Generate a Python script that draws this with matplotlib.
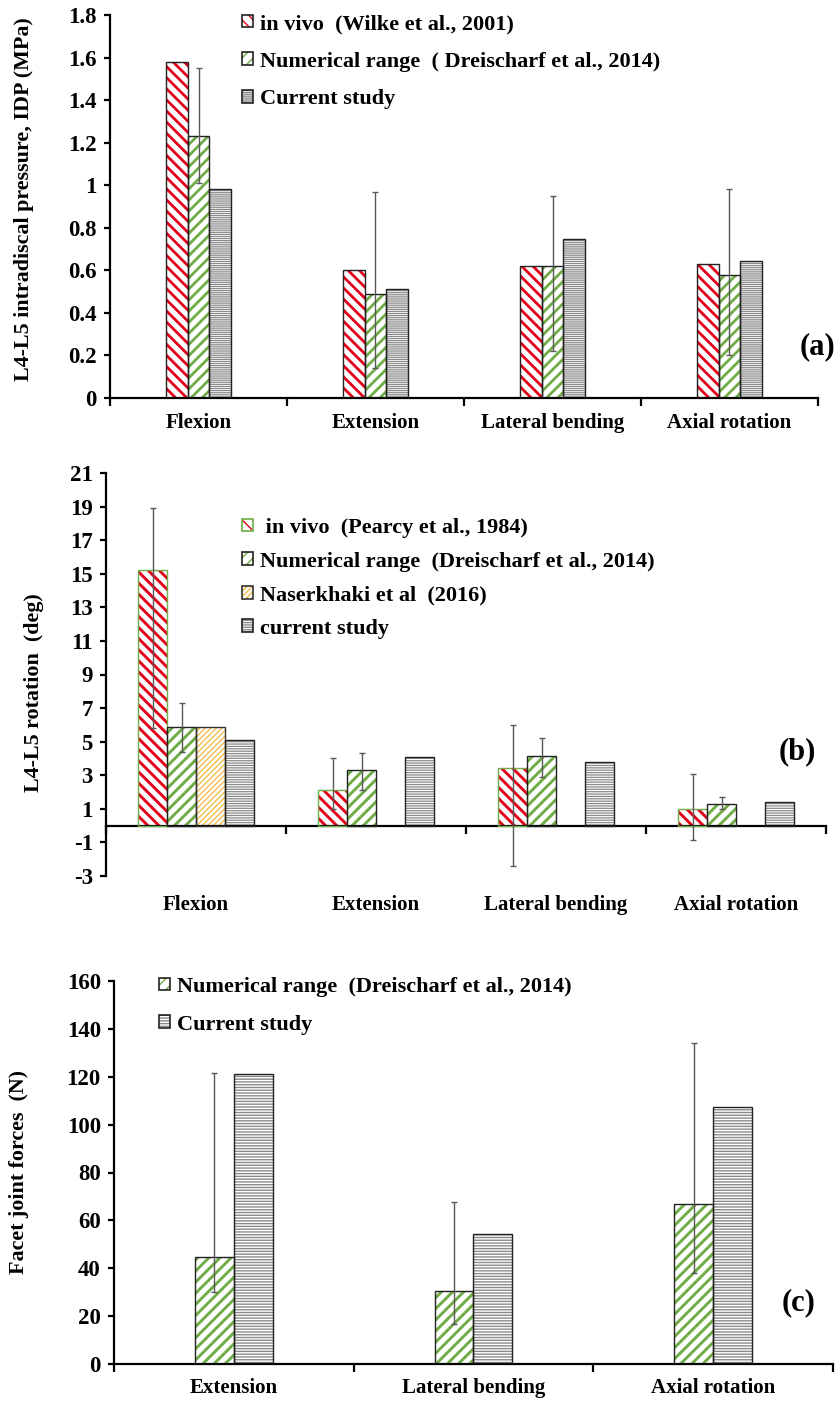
import numpy as np
import matplotlib
matplotlib.use('Agg')
import matplotlib.pyplot as plt
from matplotlib.patches import Patch
from matplotlib.legend_handler import HandlerTuple

# (a) intradiscal pressure
motions = ['Flexion', 'Extension', 'Lateral bending', 'Axial rotation']
idp_invivo = [1.58, 0.60, 0.62, 0.63]
idp_numerical = [1.23, 0.49, 0.62, 0.58]
idp_num_low = [1.01, 0.14, 0.22, 0.20]
idp_num_high = [1.55, 0.97, 0.95, 0.98]
idp_current = [0.98, 0.51, 0.745, 0.645]

# (b) L4-L5 rotation
rot_invivo = [15.2, 2.1, 3.45, 1.0]
rot_invivo_low = [5.8, 1.0, -2.4, -0.85]
rot_invivo_high = [18.9, 4.0, 6.0, 3.1]
rot_numerical = [5.9, 3.3, 4.15, 1.3]
rot_num_low = [4.4, 2.1, 2.9, 1.0]
rot_num_high = [7.3, 4.3, 5.2, 1.7]
rot_naserkhaki = [5.9, np.nan, np.nan, np.nan]
rot_current = [5.1, 4.1, 3.8, 1.4]

# (c) facet joint forces
facet_motions = ['Extension', 'Lateral bending', 'Axial rotation']
facet_numerical = [44.5, 30.5, 67.0]
facet_num_low = [30.0, 16.7, 38.0]
facet_num_high = [121.5, 67.7, 134.0]
facet_current = [121.0, 54.5, 107.5]

RED = '#e2001a'
GREEN = '#70ad47'
ORANGE = '#f5b840'
GRAY = '#8a8a8a'
ERR = '#595959'

plt.rcParams['font.family'] = ['Liberation Serif', 'DejaVu Serif']
plt.rcParams['font.weight'] = 'bold'
plt.rcParams['font.size'] = 15
TICK_FS = 16.5
LEG_FS = 16


def hatched_bars(ax, x, h, w, hatch, hcolor, hlw, edge, elw=1.0):
    with plt.rc_context({'hatch.linewidth': hlw}):
        hb = ax.bar(x, h, w, color='white', edgecolor=hcolor, hatch=hatch,
                    linewidth=0, zorder=2)
    for p in hb:
        if hasattr(p, 'set_hatch_linewidth'):
            p.set_hatch_linewidth(hlw)
    ax.bar(x, h, w, fill=False, edgecolor=edge, linewidth=elw, zorder=3)
    with plt.rc_context({'hatch.linewidth': hlw}):
        ph = Patch(facecolor='white', edgecolor=hcolor, hatch=hatch, linewidth=0)
    if hasattr(ph, 'set_hatch_linewidth'):
        ph.set_hatch_linewidth(hlw)
    po = Patch(fill=False, edgecolor=edge, linewidth=1.2)
    return (ph, po)


def errbars(ax, x, v, lo, hi):
    v = np.array(v)
    ax.errorbar(x, v, yerr=[v - np.array(lo), np.array(hi) - v], fmt='none',
                ecolor=ERR, elinewidth=1, capsize=2.5, capthick=1, zorder=4)


def style(ax, yticks):
    for s in ['top', 'right']:
        ax.spines[s].set_visible(False)
    for s in ['left', 'bottom']:
        ax.spines[s].set_linewidth(1.6)
    ax.set_yticks(yticks)
    ax.set_yticklabels([f'{t:g}' for t in yticks], fontsize=TICK_FS)
    ax.tick_params(axis='y', length=4.5, width=1.6, pad=5)
    ax.set_ylim(yticks[0], yticks[-1])


W, H = 837, 1413
fig = plt.figure(figsize=(W / 100, H / 100), dpi=100)


def rect(l, r, t, b):
    return [l / W, 1 - b / H, (r - l) / W, (b - t) / H]


leg_kw = dict(handler_map={tuple: HandlerTuple(ndivide=1)}, frameon=False,
              loc='upper left', bbox_transform=fig.transFigure, fontsize=LEG_FS,
              handlelength=0.5, handleheight=0.5, handletextpad=0.3,
              borderaxespad=0, borderpad=0)

# ---------- (a)
ax = fig.add_axes(rect(110, 818, 15, 398))
xc = np.arange(len(motions)) + 0.5
w = 0.124
h1 = hatched_bars(ax, xc - w, idp_invivo, w, '\\\\\\', RED, 2.0, '#222222')
h2 = hatched_bars(ax, xc, idp_numerical, w, '///', GREEN, 2.0, '#222222')
h3 = hatched_bars(ax, xc + w, idp_current, w, '--------', GRAY, 0.9, '#222222')
errbars(ax, xc, idp_numerical, idp_num_low, idp_num_high)
style(ax, np.round(np.arange(0, 1.81, 0.2), 1))
ax.set_xlim(0, len(motions))
ax.set_xticks(np.arange(len(motions) + 1))
ax.set_xticklabels([])
ax.set_xticks(xc, minor=True)
ax.set_xticklabels(motions, minor=True)
ax.tick_params(axis='x', which='major', length=6, width=1.6, direction='out')
ax.tick_params(axis='x', which='minor', length=0, pad=11)
ax.legend([h1, h2, h3],
          ['in vivo  (Wilke et al., 2001)', 'Numerical range  ( Dreischarf et al., 2014)',
           'Current study'],
          bbox_to_anchor=(242 / W, 1 - 14 / H), labelspacing=0.79, **leg_kw)
fig.text(24 / W, 1 - 199 / H, 'L4-L5 intradiscal pressure, IDP (MPa)',
         rotation=90, ha='center', va='center', fontsize=15.8)
fig.text(818 / W, 1 - 347 / H, '(a)', fontsize=22, ha='center', va='center')

# ---------- (b)
ax = fig.add_axes(rect(106, 826, 473, 876))
xc = np.arange(len(motions)) + 0.5
w = 0.161
g1 = hatched_bars(ax, xc - 1.5 * w, rot_invivo, w, '\\\\\\', RED, 2.1, GREEN)
g2 = hatched_bars(ax, xc - 0.5 * w, rot_numerical, w, '///', GREEN, 2.1, '#222222')
g3 = hatched_bars(ax, xc + 0.5 * w, rot_naserkhaki, w, '//////', ORANGE, 0.9, '#333333')
g4 = hatched_bars(ax, xc + 1.5 * w, rot_current, w, '-------', GRAY, 0.9, '#222222')
errbars(ax, xc - 1.5 * w, rot_invivo, rot_invivo_low, rot_invivo_high)
errbars(ax, xc - 0.5 * w, rot_numerical, rot_num_low, rot_num_high)
style(ax, np.arange(-3, 22, 2))
ax.set_xlim(0, len(motions))
ax.spines['bottom'].set_position(('data', 0))
ax.set_xticks(np.arange(len(motions) + 1))
ax.set_xticklabels([])
ax.tick_params(axis='x', which='major', length=6, width=1.6, direction='out')
for xi, m in zip(xc, motions):
    ax.text(xi, -0.048, m, transform=ax.get_xaxis_transform(), ha='center', va='top')
ax.legend([g1, g2, g3, g4],
          [' in vivo  (Pearcy et al., 1984)', 'Numerical range  (Dreischarf et al., 2014)',
           'Naserkhaki et al  (2016)', 'current study'],
          bbox_to_anchor=(242 / W, 1 - 518 / H), labelspacing=0.61, **leg_kw)
fig.text(34 / W, 1 - 693 / H, 'L4-L5 rotation  (deg)', rotation=90,
         ha='center', va='center', fontsize=15.8)
fig.text(797 / W, 1 - 752 / H, '(b)', fontsize=22, ha='center', va='center')

# ---------- (c)
ax = fig.add_axes(rect(114, 833, 981, 1364))
xc = np.arange(len(facet_motions)) + 0.5
w = 0.1625
k1 = hatched_bars(ax, xc - 0.5 * w, facet_numerical, w, '///', GREEN, 2.1, '#222222')
k2 = hatched_bars(ax, xc + 0.5 * w, facet_current, w, '------', GRAY, 1.0, '#222222')
errbars(ax, xc - 0.5 * w, facet_numerical, facet_num_low, facet_num_high)
style(ax, np.arange(0, 161, 20))
ax.set_xlim(0, len(facet_motions))
ax.set_xticks(np.arange(len(facet_motions) + 1))
ax.set_xticklabels([])
ax.set_xticks(xc, minor=True)
ax.set_xticklabels(facet_motions, minor=True)
ax.tick_params(axis='x', which='major', length=6, width=1.6, direction='out')
ax.tick_params(axis='x', which='minor', length=0, pad=10)
ax.legend([k1, k2], ['Numerical range  (Dreischarf et al., 2014)', 'Current study'],
          bbox_to_anchor=(159 / W, 1 - 977 / H), labelspacing=0.79, **leg_kw)
fig.text(19 / W, 1 - 1172 / H, 'Facet joint forces  (N)', rotation=90,
         ha='center', va='center', fontsize=15.8)
fig.text(799 / W, 1 - 1303 / H, '(c)', fontsize=22, ha='center', va='center')

fig.savefig('out.png', dpi=100)
